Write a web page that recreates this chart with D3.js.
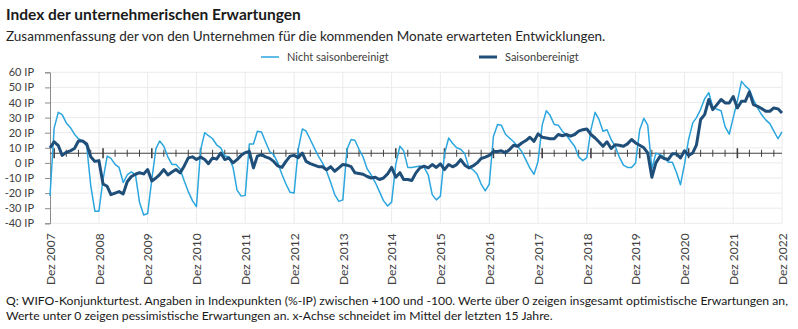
<!DOCTYPE html>
<html><head><meta charset="utf-8">
<script src="https://cdn.jsdelivr.net/npm/d3@7"></script>
<style>
body{margin:0;background:#fff;}
svg{display:block;font-family:Lato,"Open Sans",sans-serif;}
</style>
</head><body><svg id="c" width="798" height="329"></svg>
<script>
const startMonth = new Date(2007, 11, 1); // Dez 2007
const yearLabels = ["Dez 2007","Dez 2008","Dez 2009","Dez 2010","Dez 2011","Dez 2012","Dez 2013","Dez 2014","Dez 2015","Dez 2016","Dez 2017","Dez 2018","Dez 2019","Dez 2020","Dez 2021","Dez 2022"];
const yTicks = [-40,-30,-20,-10,0,10,20,30,40,50,60];
const seriesNames = ["Nicht saisonbereinigt","Saisonbereinigt"];
const axisCross = 6.4; // x-Achse schneidet im Mittel der letzten 15 Jahre

// Nicht saisonbereinigt, monthly Dez 2007 .. Dez 2022
const nichtSaison = [
 -22,
 23, 33.5, 32, 26.5, 23.5, 19, 16, 14.5, 11, -15, -32, -32,
 -11, 4.5, 3, -1, -3, -13, -8, -6, -8, -26, -34.5, -33.5,
 -11, 9.5, 14.5, 11, 4, -1, -1, -4, -12, -19, -25, -29,
 8.5, 20, 18, 16, 12, 10, 4.5, 4, -3, -18, -22, -21.5,
 12.5, 12.5, 21, 20.5, 14, 7.5, 5.5, 0, -7.5, -14, -19.5, -20,
 9, 22.5, 21, 15.5, 10, 4.5, 0, -5.5, -13, -21, -25.5, -24.5,
 9, 15.5, 15, 9, 4, -4, -8, -13, -19, -25, -28.5, -26,
 -1, 11, 8, -3, -3, -2.5, -2, -3, -8, -21, -24.5, -22,
 6, 16.5, 13, 10, 9, 6, -3, -4.5, -7.5, -14, -18.5, -14,
 17.5, 25.5, 25, 19, 16.5, 14, 11, 7.5, 2, -3.5, -7.5, 1,
 25, 34.5, 31.5, 25.5, 25, 21, 18.5, 14.5, 11, 4, 1.5, 3.5,
 22, 33.5, 29, 21, 22, 15.5, 11, 4, -1.5, -3, -3, 0,
 22, 29.5, 25, -4, 6.5, 5.5, 4, 0.5, 0.5, -6, -14.5, -1,
 15.5, 26.5, 30, 35.5, 42.5, 46.5, 37, 35.5, 34.5, 24, 19, 30,
 41, 54, 51, 48.5, 42, 36.5, 32, 28.5, 26, 21, 16, 20.5
];
// Saisonbereinigt
const saison = [
 10,
 14, 11.5, 5, 7, 8, 9.5, 14.5, 14.5, 12.5, 4, 1, 1.5,
 -14, -15.5, -21, -20, -19, -20.5, -12.5, -9, -7.5, -6.5, -7.3, -4.4,
 -12, -10, -7.7, -4.4, -8, -6, -4.4, -6.6, -2, 3.3, 4, 2.2,
 3.8, 2.2, -0.5, 3.3, 2.5, 6.5, 2.2, 3.3, 0, 2.2, 5, 6.8,
 7.5, -3.3, 4.5, 5.5, 4, 3, 1, -2, -3, 1, 4.5, 5,
 3.5, 6.5, 1, -0.5, -1.5, -2.5, -2.5, -4.5, -2.5, -5.5, -3.3, -1,
 -1.5, -2.5, -6.5, -7, -7.5, -9, -10, -9.5, -11, -10, -7.3, -3,
 -9.5, -6.5, -11, -11, -11.7, -6.6, -3.3, -2.2, -3.3, -1.1, -3, -0.7,
 -4.4, -1.1, -2.6, -1.1, 2.2, -1.5, -3.3, -2, 0, 2.9, 3.8, 5,
 7.5, 7.5, 8, 6.6, 8.8, 11.7, 11, 13.2, 14.8, 17, 14.3, 19.2,
 17, 16.5, 16, 16, 18.8, 18, 18.8, 17.7, 18.8, 21, 22, 22.5,
 18.8, 16.5, 14, 11, 14, 9.5, 12, 11.7, 11, 12.6, 15.5, 13.2,
 11.7, 10, 6.6, -9.5, 0, 4.4, 2.9, 2.2, 6, 6, 3.3, 8,
 5, 6.6, 12, 28.7, 32, 42, 35.3, 38.6, 42, 39.7, 39.7, 44,
 36.4, 40.8, 40.8, 47, 38.6, 37.5, 36, 34.2, 34.2, 36.4, 35.8, 33
];

const colLight = "#2ba6de", colDark = "#1f4e79";
const svg = d3.select("#c");
const months = nichtSaison.map((_, i) => d3.timeMonth.offset(startMonth, i));
const endMonth = months[months.length - 1];
const x = d3.scaleTime().domain([startMonth, endMonth]).range([50, 782]);
const y = d3.scaleLinear().domain([-40, 60]).range([223.3, 72.3]);
const yearTicks = months.filter(d => d.getMonth() === 11);

// Titles
svg.append("text").attr("x", 6).attr("y", 20).attr("font-size", 15.5).attr("font-weight", 700).attr("fill", "#1a1a1a")
  .text("Index der unternehmerischen Erwartungen");
svg.append("text").attr("x", 6).attr("y", 41).attr("font-size", 13.5).attr("fill", "#262626")
  .text("Zusammenfassung der von den Unternehmen für die kommenden Monate erwarteten Entwicklungen.");

// Legend
const leg = [{n: seriesNames[0], c: colLight, w: 1.5, x: 261}, {n: seriesNames[1], c: colDark, w: 3, x: 479}];
leg.forEach(l => {
  svg.append("line").attr("x1", l.x).attr("x2", l.x + 18).attr("y1", 57).attr("y2", 57).attr("stroke", l.c).attr("stroke-width", l.w);
  svg.append("text").attr("x", l.x + 26).attr("y", 61).attr("font-size", 11).attr("fill", "#404040").text(l.n);
});

// Grid
svg.append("g").selectAll("line").data(yTicks).join("line")
  .attr("x1", 50).attr("x2", 782).attr("y1", d => y(d)).attr("y2", d => y(d))
  .attr("stroke", "#ebebeb").attr("stroke-width", 1);
svg.append("g").selectAll("line").data(yearTicks.slice(1)).join("line")
  .attr("x1", d => x(d)).attr("x2", d => x(d)).attr("y1", y(60)).attr("y2", y(-40))
  .attr("stroke", "#ebebeb").attr("stroke-width", 1);

// Y axis
const yAxis = svg.append("g").attr("transform", "translate(50,0)")
  .call(d3.axisLeft(y).tickValues(yTicks).tickFormat(d => d + " IP").tickSize(5).tickPadding(11));
yAxis.select(".domain").attr("stroke", "#8c8c8c");
yAxis.selectAll(".tick line").attr("stroke", "#8c8c8c");
yAxis.selectAll("text").attr("font-size", 11).attr("fill", "#404040").attr("font-family", "Lato");

// X labels (bottom)
const xAxis = svg.append("g").attr("transform", "translate(0,223.3)")
  .call(d3.axisBottom(x).tickValues(yearTicks).tickFormat((d, i) => yearLabels[i]).tickSize(0));
xAxis.select(".domain").remove();
xAxis.selectAll("text").attr("font-size", 12).attr("fill", "#404040").attr("font-family", "Lato")
  .attr("transform", "rotate(-90)").attr("text-anchor", "end").attr("dy", "0.35em").attr("x", -10).attr("y", 0);

// Crossing axis line with quarterly ticks
const cy = y(axisCross);
const qTicks = months.filter(d => d.getMonth() % 3 === 0);
svg.append("g").selectAll("line").data(qTicks).join("line")
  .attr("x1", d => x(d)).attr("x2", d => x(d))
  .attr("y1", d => d.getMonth() === 0 ? cy - 5 : cy - 3.5).attr("y2", d => d.getMonth() === 0 ? cy + 5 : cy + 3.5)
  .attr("stroke", "#404040").attr("stroke-width", d => d.getMonth() === 0 ? 1.6 : 1);
svg.append("line").attr("x1", 50).attr("x2", 782).attr("y1", cy).attr("y2", cy).attr("stroke", "#404040").attr("stroke-width", 1);

// Series
const line = d3.line().x((d, i) => x(months[i])).y(d => y(d));
svg.append("path").datum(nichtSaison).attr("d", line).attr("fill", "none").attr("stroke", colLight).attr("stroke-width", 1.5).attr("stroke-linejoin", "round");
svg.append("path").datum(saison).attr("d", line).attr("fill", "none").attr("stroke", colDark).attr("stroke-width", 3).attr("stroke-linejoin", "round");

// Footnote
svg.append("text").attr("x", 6).attr("y", 305).attr("font-size", 12.2).attr("fill", "#1a1a1a")
  .text("Q: WIFO-Konjunkturtest. Angaben in Indexpunkten (%-IP) zwischen +100 und -100. Werte über 0 zeigen insgesamt optimistische Erwartungen an,");
svg.append("text").attr("x", 6).attr("y", 320).attr("font-size", 12.2).attr("fill", "#1a1a1a")
  .text("Werte unter 0 zeigen pessimistische Erwartungen an. x-Achse schneidet im Mittel der letzten 15 Jahre.");
</script>
</body></html>
